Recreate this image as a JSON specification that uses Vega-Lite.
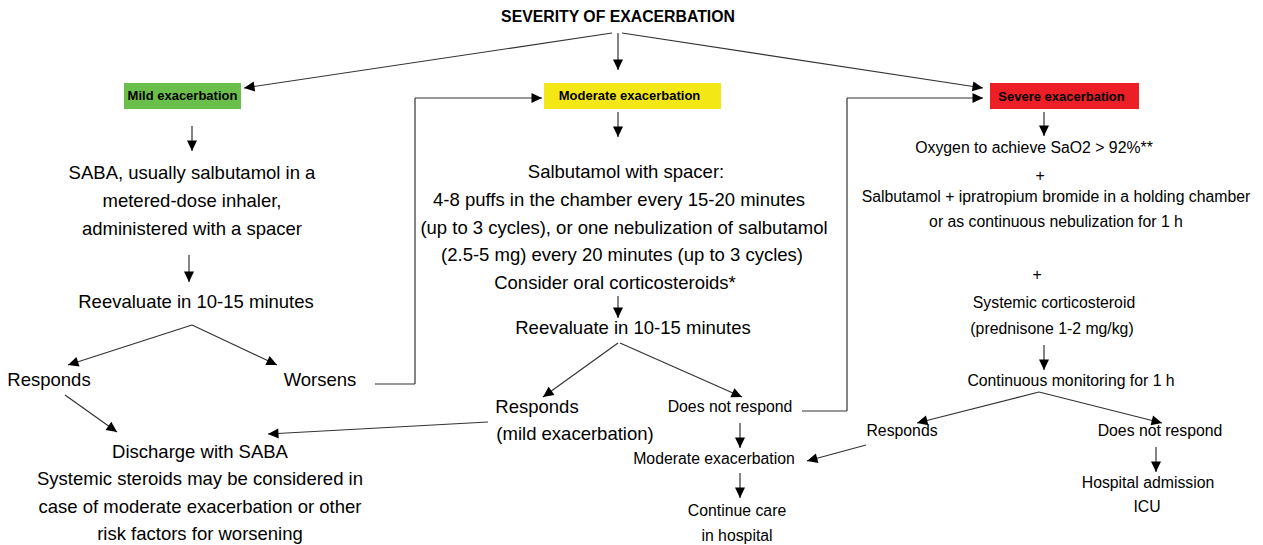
{
  "$schema": "https://vega.github.io/schema/vega-lite/v6.json",
  "width": 1263,
  "height": 545,
  "autosize": {"type": "fit", "contains": "padding"},
  "padding": 0,
  "background": "white",
  "config": {"view": {"stroke": null}},
  "datasets": {
    "boxes": [
      {"x1": 124, "x2": 241, "y1": 83, "y2": 109, "level": "Mild"},
      {"x1": 544, "x2": 721, "y1": 83, "y2": 109, "level": "Moderate"},
      {"x1": 990, "x2": 1139, "y1": 83, "y2": 109, "level": "Severe"}
    ],
    "edges": [
      {"x": 612, "y": 33, "x2": 244, "y2": 88, "head": true, "angle": 261.5},
      {"x": 618, "y": 33, "x2": 618, "y2": 70, "head": true, "angle": 180},
      {"x": 622, "y": 33, "x2": 983, "y2": 88, "head": true, "angle": 98.7},
      {"x": 192, "y": 126, "x2": 192, "y2": 151, "head": true, "angle": 180},
      {"x": 189, "y": 255, "x2": 189, "y2": 282, "head": true, "angle": 180},
      {"x": 192, "y": 325, "x2": 68, "y2": 365, "head": true, "angle": 252.1},
      {"x": 192, "y": 325, "x2": 277, "y2": 365, "head": true, "angle": 115.2},
      {"x": 65, "y": 395, "x2": 117, "y2": 432, "head": true, "angle": 125.4},
      {"x": 375, "y": 384, "x2": 415, "y2": 384, "head": false, "angle": 0},
      {"x": 415, "y": 384, "x2": 415, "y2": 98, "head": false, "angle": 0},
      {"x": 415, "y": 98, "x2": 542, "y2": 98, "head": true, "angle": 90},
      {"x": 618, "y": 112, "x2": 618, "y2": 137, "head": true, "angle": 180},
      {"x": 618, "y": 296, "x2": 618, "y2": 318, "head": true, "angle": 180},
      {"x": 618, "y": 343, "x2": 543, "y2": 397, "head": true, "angle": 234.3},
      {"x": 620, "y": 343, "x2": 742, "y2": 397, "head": true, "angle": 113.9},
      {"x": 488, "y": 422, "x2": 268, "y2": 434, "head": true, "angle": 266.9},
      {"x": 802, "y": 411, "x2": 847, "y2": 411, "head": false, "angle": 0},
      {"x": 847, "y": 411, "x2": 847, "y2": 98, "head": false, "angle": 0},
      {"x": 847, "y": 98, "x2": 983, "y2": 98, "head": true, "angle": 90},
      {"x": 740, "y": 423, "x2": 740, "y2": 448, "head": true, "angle": 180},
      {"x": 740, "y": 473, "x2": 740, "y2": 498, "head": true, "angle": 180},
      {"x": 866, "y": 445, "x2": 807, "y2": 461, "head": true, "angle": 254.8},
      {"x": 1044, "y": 112, "x2": 1044, "y2": 136, "head": true, "angle": 180},
      {"x": 1044, "y": 345, "x2": 1044, "y2": 370, "head": true, "angle": 180},
      {"x": 1039, "y": 392, "x2": 917, "y2": 423, "head": true, "angle": 255.7},
      {"x": 1039, "y": 392, "x2": 1162, "y2": 423, "head": true, "angle": 104.1},
      {"x": 1156, "y": 447, "x2": 1156, "y2": 472, "head": true, "angle": 180}
    ],
    "texts": [
      {"x": 618, "y": 17, "label": "SEVERITY OF EXACERBATION", "group": "title"},
      {"x": 182.5, "y": 96, "label": "Mild exacerbation", "group": "box"},
      {"x": 629.5, "y": 96, "label": "Moderate exacerbation", "group": "box"},
      {"x": 1061.5, "y": 97, "label": "Severe exacerbation", "group": "box"},
      {"x": 192, "y": 173, "label": "SABA, usually salbutamol in a", "group": "big"},
      {"x": 192, "y": 201, "label": "metered-dose inhaler,", "group": "big"},
      {"x": 192, "y": 229, "label": "administered with a spacer", "group": "big"},
      {"x": 196, "y": 302, "label": "Reevaluate in 10-15 minutes", "group": "big"},
      {"x": 49, "y": 380, "label": "Responds", "group": "big"},
      {"x": 320, "y": 380, "label": "Worsens", "group": "big"},
      {"x": 200, "y": 452, "label": "Discharge with SABA", "group": "big"},
      {"x": 200, "y": 479, "label": "Systemic steroids may be considered in", "group": "big"},
      {"x": 200, "y": 507, "label": "case of moderate exacerbation or other", "group": "big"},
      {"x": 200, "y": 534, "label": "risk factors for worsening", "group": "big"},
      {"x": 626, "y": 172, "label": "Salbutamol with spacer:", "group": "big"},
      {"x": 619, "y": 200, "label": "4-8 puffs in the chamber every 15-20 minutes", "group": "big"},
      {"x": 624, "y": 228, "label": "(up to 3 cycles), or one nebulization of salbutamol", "group": "big"},
      {"x": 622, "y": 255, "label": "(2.5-5 mg) every 20 minutes (up to 3 cycles)", "group": "big"},
      {"x": 615, "y": 283, "label": "Consider oral corticosteroids*", "group": "big"},
      {"x": 633, "y": 328, "label": "Reevaluate in 10-15 minutes", "group": "big"},
      {"x": 537, "y": 407, "label": "Responds", "group": "big"},
      {"x": 575, "y": 434, "label": "(mild exacerbation)", "group": "big"},
      {"x": 730, "y": 407, "label": "Does not respond", "group": "small"},
      {"x": 714, "y": 459, "label": "Moderate exacerbation", "group": "small"},
      {"x": 737, "y": 511, "label": "Continue care", "group": "small"},
      {"x": 737, "y": 536, "label": "in hospital", "group": "small"},
      {"x": 1034, "y": 148, "label": "Oxygen to achieve SaO2 > 92%**", "group": "small"},
      {"x": 1040, "y": 176, "label": "+", "group": "small"},
      {"x": 1056, "y": 197, "label": "Salbutamol + ipratropium bromide in a holding chamber", "group": "small"},
      {"x": 1056, "y": 222, "label": "or as continuous nebulization for 1 h", "group": "small"},
      {"x": 1037, "y": 275, "label": "+", "group": "small"},
      {"x": 1054, "y": 303, "label": "Systemic corticosteroid", "group": "small"},
      {"x": 1052, "y": 329, "label": "(prednisone 1-2 mg/kg)", "group": "small"},
      {"x": 1071, "y": 381, "label": "Continuous monitoring for 1 h", "group": "small"},
      {"x": 902, "y": 431, "label": "Responds", "group": "small"},
      {"x": 1160, "y": 431, "label": "Does not respond", "group": "small"},
      {"x": 1148, "y": 483, "label": "Hospital admission", "group": "small"},
      {"x": 1147, "y": 507, "label": "ICU", "group": "small"}
    ]
  },
  "layer": [
    {
      "data": {"name": "boxes"},
      "mark": {"type": "rect"},
      "encoding": {
        "x": {"field": "x1", "type": "quantitative", "scale": {"domain": [0, 1263], "nice": false, "zero": false}, "axis": null},
        "x2": {"field": "x2"},
        "y": {"field": "y1", "type": "quantitative", "scale": {"domain": [0, 545], "nice": false, "zero": false, "reverse": true}, "axis": null},
        "y2": {"field": "y2"},
        "color": {"field": "level", "type": "nominal", "legend": null, "scale": {"domain": ["Mild", "Moderate", "Severe"], "range": ["#6abf4b", "#f4e716", "#ec1f26"]}}
      }
    },
    {
      "data": {"name": "edges"},
      "mark": {"type": "rule", "color": "#333333", "strokeWidth": 1.2},
      "encoding": {
        "x": {"field": "x", "type": "quantitative"},
        "y": {"field": "y", "type": "quantitative"},
        "x2": {"field": "x2"},
        "y2": {"field": "y2"}
      }
    },
    {
      "data": {"name": "edges"},
      "transform": [{"filter": "datum.head"}],
      "mark": {"type": "point", "shape": "M0,0L-0.5,1.05L0.5,1.05Z", "filled": true, "color": "#000000", "opacity": 1, "size": 400, "strokeWidth": 0},
      "encoding": {
        "x": {"field": "x2", "type": "quantitative"},
        "y": {"field": "y2", "type": "quantitative"},
        "angle": {"field": "angle", "type": "quantitative", "scale": null}
      }
    },
    {
      "data": {"name": "texts"},
      "transform": [{"filter": "datum.group === 'title'"}],
      "mark": {"type": "text", "font": "Liberation Sans", "fontWeight": "bold", "fontSize": 15.8, "align": "center", "baseline": "middle", "color": "#000000"},
      "encoding": {
        "x": {"field": "x", "type": "quantitative"},
        "y": {"field": "y", "type": "quantitative"},
        "text": {"field": "label"}
      }
    },
    {
      "data": {"name": "texts"},
      "transform": [{"filter": "datum.group === 'box'"}],
      "mark": {"type": "text", "font": "Liberation Sans", "fontWeight": "bold", "fontSize": 13, "align": "center", "baseline": "middle", "color": "#000000"},
      "encoding": {
        "x": {"field": "x", "type": "quantitative"},
        "y": {"field": "y", "type": "quantitative"},
        "text": {"field": "label"}
      }
    },
    {
      "data": {"name": "texts"},
      "transform": [{"filter": "datum.group === 'big'"}],
      "mark": {"type": "text", "font": "Liberation Sans", "fontSize": 18.5, "align": "center", "baseline": "middle", "color": "#000000"},
      "encoding": {
        "x": {"field": "x", "type": "quantitative"},
        "y": {"field": "y", "type": "quantitative"},
        "text": {"field": "label"}
      }
    },
    {
      "data": {"name": "texts"},
      "transform": [{"filter": "datum.group === 'small'"}],
      "mark": {"type": "text", "font": "Liberation Sans", "fontSize": 15.8, "align": "center", "baseline": "middle", "color": "#000000"},
      "encoding": {
        "x": {"field": "x", "type": "quantitative"},
        "y": {"field": "y", "type": "quantitative"},
        "text": {"field": "label"}
      }
    }
  ]
}
